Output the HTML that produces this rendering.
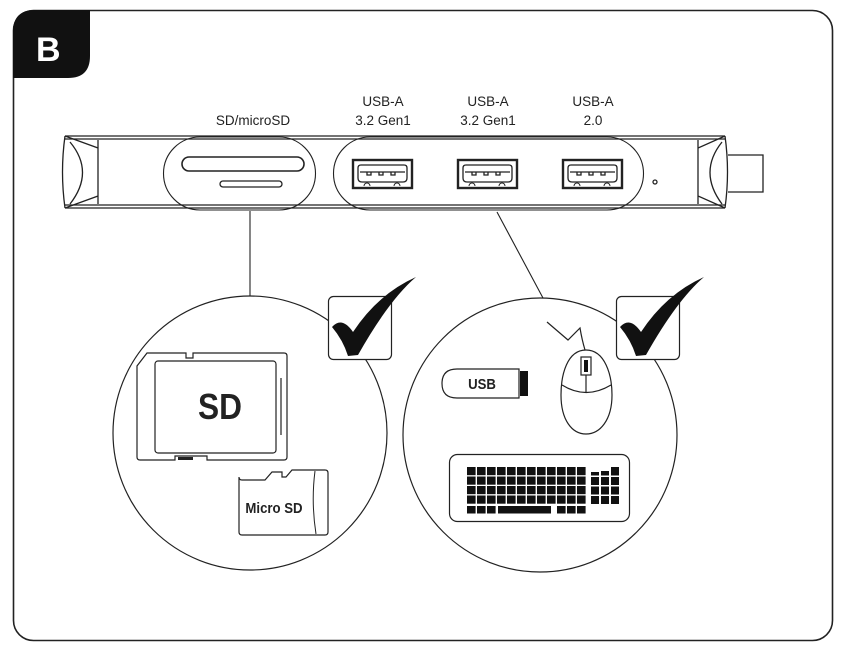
<!DOCTYPE html>
<html><head><meta charset="utf-8"><style>
html,body{margin:0;padding:0;background:#fff;width:842px;height:653px;overflow:hidden}
svg{display:block}
text{font-family:"Liberation Sans",sans-serif}
</style></head><body>
<svg width="842" height="653" viewBox="0 0 842 653" xmlns="http://www.w3.org/2000/svg">
<defs>
<pattern id="keys" x="467" y="467" width="10" height="9.5" patternUnits="userSpaceOnUse">
<rect x="0" y="0" width="8.6" height="8.2" fill="#111"/>
</pattern>
</defs>
<!-- frame -->
<rect x="13.5" y="10.5" width="819" height="630" rx="20" fill="none" stroke="#222" stroke-width="1.6"/>
<path d="M13 78 V32 Q13 10 35 10 H90 V56 Q90 78 68 78 Z" fill="#111"/>
<text x="36" y="61" font-size="34" font-weight="bold" fill="#fff">B</text>

<!-- labels -->
<g font-size="13.5" fill="#222" text-anchor="middle">
<text x="253" y="125">SD/microSD</text>
<text x="383" y="106">USB-A</text><text x="383" y="125">3.2 Gen1</text>
<text x="488" y="106">USB-A</text><text x="488" y="125">3.2 Gen1</text>
<text x="593" y="106">USB-A</text><text x="593" y="125">2.0</text>
</g>

<!-- hub -->
<g fill="none" stroke="#222" stroke-width="1.3">
<path d="M65 136 H725 M65 139 H725 M65 205 H725 M65 208 H725"/>
<path d="M65 136 Q60 172 65 208"/>
<path d="M98 140 V204 M65 136 L98 148 V196 L65 208"/>
<path d="M70 142 Q95 172 70 204"/>
<path d="M725 136 Q730 172 725 208"/>
<path d="M698 140 V204 M725 136 L698 148 V196 L725 208"/>
<path d="M722 142 Q698 172 722 204"/>
<path d="M728 155 H763 V192 H728"/>
<rect x="163.5" y="137" width="152" height="73" rx="36.5" stroke-width="1.1"/>
<rect x="333.5" y="137" width="310" height="73" rx="36.5" stroke-width="1.1"/>
<rect x="182" y="157" width="122" height="14" rx="7" stroke-width="1.6"/>
<rect x="220" y="181" width="62" height="6" rx="3"/>
<circle cx="655" cy="182" r="2"/>
</g>
<g fill="none" stroke="#222">
<g id="port">
<rect x="353" y="160" width="59" height="28" stroke-width="2.4"/>
<path d="M358 168 Q358 165 361 165 H404 Q407 165 407 168 V178 Q407 182 403 182 H362 Q358 182 358 178 Z" stroke-width="1.3"/>
<path d="M360 172 H405 M367 172 v3 h4 v-3 M379 172 v3 h4 v-3 M391 172 v3 h4 v-3" stroke-width="1.3"/>
<path d="M364 186 a3 3 0 0 1 6 0 M394 186 a3 3 0 0 1 6 0" stroke-width="1"/>
</g>
<use href="#port" x="105"/>
<use href="#port" x="210"/>
</g>

<!-- connectors -->
<path d="M250 211 V296 M497 212 L543 298" stroke="#222" stroke-width="1.1" fill="none"/>

<!-- circles -->
<circle cx="250" cy="433" r="137" fill="none" stroke="#222" stroke-width="1.2"/>
<circle cx="540" cy="435" r="137" fill="none" stroke="#222" stroke-width="1.2"/>

<!-- check boxes -->
<rect x="328.5" y="296.5" width="63" height="63" rx="5" fill="#fff" stroke="#222" stroke-width="1.2"/>
<rect x="616.5" y="296.5" width="63" height="63" rx="5" fill="#fff" stroke="#222" stroke-width="1.2"/>
<path id="chk" d="M620 327 Q630 316 641 332 Q666 294 704 277 Q677 300 646 355 L636 356 Q631 340 620 327 Z" fill="#111"/>
<use href="#chk" x="-288"/>

<!-- SD card -->
<g fill="none" stroke="#222" stroke-width="1.2">
<path d="M147 353 H186 V358 H193 V353 H284 Q287 353 287 356 V457 Q287 460 284 460 H207 V456 H175 V460 H140 Q137 460 137 457 V366 Z"/>
<rect x="155" y="361" width="121" height="92" rx="3"/>
<path d="M281 378 V435"/>
</g>
<rect x="178" y="457" width="15" height="3" fill="#222"/>
<path d="M239 483 V477 Q239 480 242 480 H265 L272 472 H282 V477 H286 L292 470 H325 Q328 470 328 473 V532 Q328 535 325 535 H242 Q239 535 239 532 Z" fill="#fff" stroke="#222" stroke-width="1.2"/>
<path d="M315 471 Q311 502 316 534" fill="none" stroke="#222" stroke-width="1"/>
<text x="220" y="419" font-size="36" font-weight="bold" text-anchor="middle" fill="#222" transform="scale(0.88,1) translate(30,0)">SD</text>
<text x="274" y="513" font-size="15" font-weight="bold" text-anchor="middle" fill="#222" transform="translate(274,0) scale(0.88,1) translate(-274,0)">Micro SD</text>

<!-- USB stick -->
<path d="M519 369 H457 Q442 369 442 383.5 Q442 398 457 398 H519 Z" fill="none" stroke="#222" stroke-width="1.2"/>
<rect x="520" y="371" width="8" height="25" fill="#111"/>
<text x="482" y="389" font-size="15" font-weight="bold" text-anchor="middle" fill="#222" transform="translate(482,0) scale(0.88,1) translate(-482,0)">USB</text>

<!-- mouse -->
<g fill="none" stroke="#222" stroke-width="1.2">
<path d="M547 322 L568 340 L580 328 Q582 340 585 350"/>
<path d="M586 350 C605 350 612 375 612 395 C612 420 600 434 586 434 C572 434 561 420 561 395 C561 375 567 350 586 350 Z"/>
<path d="M562 385 Q586 400 611 385 M586 375 V393"/>
<rect x="581" y="357" width="10" height="18"/>
</g>
<rect x="584" y="360" width="4" height="12" fill="#111"/>

<!-- keyboard -->
<rect x="449.5" y="454.5" width="180" height="67" rx="8" fill="none" stroke="#222" stroke-width="1.2"/>
<rect x="467" y="467" width="120" height="38" fill="url(#keys)"/>
<g fill="#111">
<rect x="591" y="472" width="8" height="3.5"/><rect x="601" y="471" width="8" height="4.5"/><rect x="611" y="467" width="8" height="8.5"/>
<rect x="591" y="477" width="8" height="8"/><rect x="601" y="477" width="8" height="8"/><rect x="611" y="477" width="8" height="8"/>
<rect x="591" y="486.5" width="8" height="8"/><rect x="601" y="486.5" width="8" height="8"/><rect x="611" y="486.5" width="8" height="8"/>
<rect x="591" y="496" width="8" height="8"/><rect x="601" y="496" width="8" height="8"/><rect x="611" y="496" width="8" height="8"/>
<rect x="467" y="506" width="8.6" height="7.5"/><rect x="477" y="506" width="8.6" height="7.5"/><rect x="487" y="506" width="8.6" height="7.5"/>
<rect x="498" y="506" width="53" height="7.5"/>
<rect x="557" y="506" width="8.6" height="7.5"/><rect x="567" y="506" width="8.6" height="7.5"/><rect x="577" y="506" width="8.6" height="7.5"/>
</g>
</svg>
</body></html>
